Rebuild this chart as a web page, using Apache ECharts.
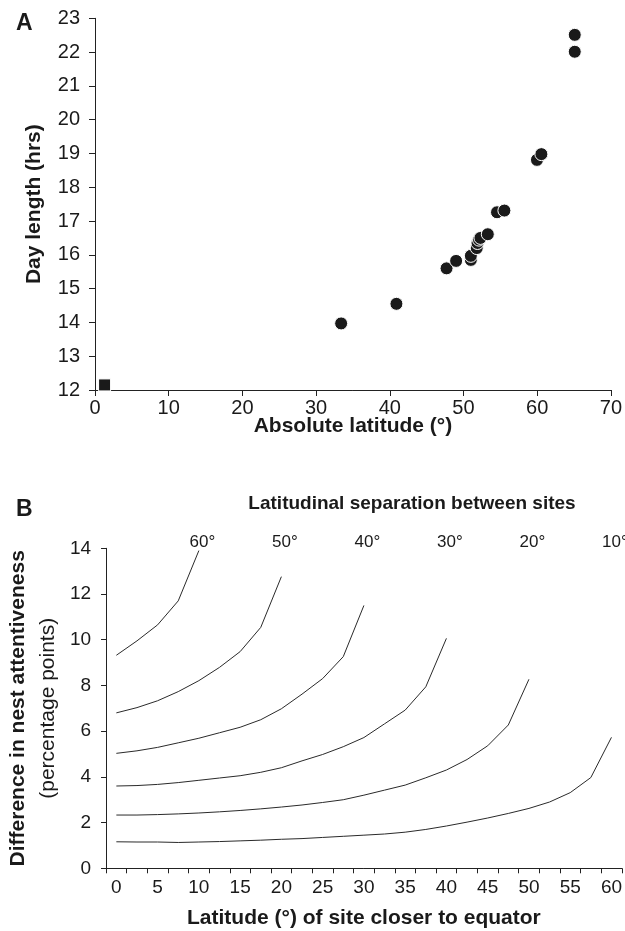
<!DOCTYPE html>
<html>
<head>
<meta charset="utf-8">
<script src="https://cdn.jsdelivr.net/npm/echarts@6/dist/echarts.min.js"></script>
<style>
html,body{margin:0;padding:0;background:#fff;}
#chart{width:625px;height:931px;}
</style>
</head>
<body>
<div id="chart"></div>
<script>
// ---- Panel A data ----
const latA = [33.4, 40.9, 47.7, 49.0, 51.0, 51.0, 51.8, 51.9, 52.1, 52.3, 53.3, 54.55, 55.55, 59.97, 60.57, 65.1, 65.1];
const dayA = [13.97, 14.55, 15.6, 15.82, 15.85, 15.97, 16.2, 16.35, 16.45, 16.5, 16.61, 17.26, 17.31, 18.81, 18.98, 22.01, 22.51];
const eqLat = [1.3];
const eqDay = [12.15];
const xTicksA = [0, 10, 20, 30, 40, 50, 60, 70];
const yTicksA = [12, 13, 14, 15, 16, 17, 18, 19, 20, 21, 22, 23];

// ---- Panel B data ----
const latCats = ['0','2.5','5','7.5','10','12.5','15','17.5','20','22.5','25','27.5','30','32.5','35','37.5','40','42.5','45','47.5','50','52.5','55','57.5','60'];
const sep60 = [9.32, 9.95, 10.65, 11.7, 13.9];
const sep50 = [6.8, 7.03, 7.33, 7.73, 8.21, 8.79, 9.48, 10.54, 12.76];
const sep40 = [5.03, 5.14, 5.29, 5.49, 5.69, 5.93, 6.17, 6.5, 6.98, 7.62, 8.3, 9.26, 11.5];
const sep30 = [3.6, 3.62, 3.67, 3.75, 3.85, 3.95, 4.05, 4.2, 4.4, 4.7, 4.98, 5.32, 5.72, 6.32, 6.92, 7.94, 10.06];
const sep20 = [2.33, 2.33, 2.35, 2.38, 2.42, 2.47, 2.53, 2.6, 2.68, 2.77, 2.88, 3.0, 3.2, 3.42, 3.64, 3.96, 4.3, 4.76, 5.36, 6.27, 8.27];
const sep10 = [1.16, 1.15, 1.15, 1.13, 1.15, 1.17, 1.2, 1.23, 1.27, 1.3, 1.35, 1.4, 1.45, 1.5, 1.58, 1.7, 1.85, 2.02, 2.2, 2.4, 2.62, 2.9, 3.31, 3.97, 5.73];
const sepLabels = ['60°', '50°', '40°', '30°', '20°', '10°'];
const sepEndCats = ['10', '20', '30', '40', '50', '60'];
const sepLabelY = 14;
const yTicksB = [0, 2, 4, 6, 8, 10, 12, 14];

const FONT = 'Liberation Sans, Arial, Helvetica, sans-serif';
const INK = '#1a1a1a';
const AXIS = '#222';

const chart = echarts.init(document.getElementById('chart'), null, {renderer: 'canvas'});

const allSeps = [sep60, sep50, sep40, sep30, sep20, sep10];

const option = {
  backgroundColor: '#fff',
  animation: false,
  textStyle: {fontFamily: FONT},
  title: [
    {text: 'A', left: 11, top: 7, textStyle: {fontFamily: FONT, fontSize: 23, fontWeight: 'bold', color: INK}},
    {text: 'B', left: 11, top: 493, textStyle: {fontFamily: FONT, fontSize: 23, fontWeight: 'bold', color: INK}},
    {text: 'Latitudinal separation between sites', left: 407, top: 489, textAlign: 'center',
     textStyle: {fontFamily: FONT, fontSize: 19, fontWeight: 'bold', color: INK}}
  ],
  grid: [
    {left: 95, top: 18.3, width: 516.5, height: 371.7, containLabel: false},
    {left: 105.3, top: 548.3, width: 517.5, height: 320, containLabel: false}
  ],
  xAxis: [
    {
      gridIndex: 0, type: 'value', min: xTicksA[0], max: xTicksA[xTicksA.length - 1], interval: 10,
      name: 'Absolute latitude (°)', nameLocation: 'middle', nameGap: 26, nameMoveOverlap: false,
      nameTextStyle: {fontFamily: FONT, fontSize: 21, fontWeight: 'bold', color: INK},
      axisLine: {show: true, lineStyle: {color: AXIS, width: 1}},
      axisTick: {show: true, length: 6, lineStyle: {color: AXIS}},
      axisLabel: {fontFamily: FONT, fontSize: 20, color: INK, margin: 8},
      splitLine: {show: false}
    },
    {
      gridIndex: 1, type: 'category', data: latCats, boundaryGap: true,
      name: 'Latitude (°) of site closer to equator', nameLocation: 'middle', nameGap: 39,
      nameTextStyle: {fontFamily: FONT, fontSize: 21, fontWeight: 'bold', color: INK},
      axisLine: {show: true, lineStyle: {color: AXIS, width: 1}},
      axisTick: {show: true, length: 5, interval: 0, alignWithLabel: false, lineStyle: {color: AXIS}},
      axisLabel: {fontFamily: FONT, fontSize: 19, color: INK, margin: 10, interval: 1},
      splitLine: {show: false}
    }
  ],
  yAxis: [
    {
      gridIndex: 0, type: 'value', min: yTicksA[0], max: yTicksA[yTicksA.length - 1], interval: 1,
      name: 'Day length (hrs)', nameLocation: 'middle', nameGap: 50, nameRotate: 90,
      nameTextStyle: {fontFamily: FONT, fontSize: 21, fontWeight: 'bold', color: INK},
      axisLine: {show: true, lineStyle: {color: AXIS, width: 1}},
      axisTick: {show: true, length: 6, lineStyle: {color: AXIS}},
      axisLabel: {fontFamily: FONT, fontSize: 20, color: INK, margin: 15},
      splitLine: {show: false}
    },
    {
      gridIndex: 1, type: 'value', min: yTicksB[0], max: yTicksB[yTicksB.length - 1], interval: 2,
      name: '{a|Difference in nest attentiveness}\n{b|(percentage points)}',
      nameLocation: 'middle', nameGap: 42, nameRotate: 90,
      nameTextStyle: {
        fontFamily: FONT, color: INK,
        rich: {
          a: {fontFamily: FONT, fontSize: 21, fontWeight: 'bold', color: INK, lineHeight: 30},
          b: {fontFamily: FONT, fontSize: 21, fontWeight: 'normal', color: INK, lineHeight: 30}
        }
      },
      axisLine: {show: true, lineStyle: {color: AXIS, width: 1}},
      axisTick: {show: true, length: 5, lineStyle: {color: AXIS}},
      axisLabel: {fontFamily: FONT, fontSize: 19, color: INK, margin: 15},
      splitLine: {show: false}
    }
  ],
  series: [
    {
      type: 'scatter', xAxisIndex: 0, yAxisIndex: 0,
      data: latA.map((x, i) => [x, dayA[i]]),
      symbol: 'circle', symbolSize: 13,
      itemStyle: {color: INK, borderColor: '#fff', borderWidth: 1, opacity: 1}
    },
    {
      type: 'scatter', xAxisIndex: 0, yAxisIndex: 0,
      data: eqLat.map((x, i) => [x, eqDay[i]]),
      symbol: 'rect', symbolSize: 12,
      itemStyle: {color: INK, borderColor: '#fff', borderWidth: 1, opacity: 1}
    },
    ...allSeps.map(arr => ({
      type: 'line', xAxisIndex: 1, yAxisIndex: 1,
      data: arr, symbol: 'none', smooth: false,
      lineStyle: {color: '#2a2a2a', width: 1}
    })),
    {
      type: 'scatter', xAxisIndex: 1, yAxisIndex: 1,
      data: sepEndCats.map((c, i) => ({value: [c, sepLabelY], label: {formatter: sepLabels[i]}})),
      symbolSize: 0.1, clip: false,
      itemStyle: {color: INK, opacity: 1},
      label: {show: true, position: 'top', distance: -3, offset: [3.5, 0],
              fontFamily: FONT, fontSize: 17, color: INK, opacity: 1, textBorderWidth: 0}
    }
  ]
};
chart.setOption(option);
</script>
</body>
</html>
